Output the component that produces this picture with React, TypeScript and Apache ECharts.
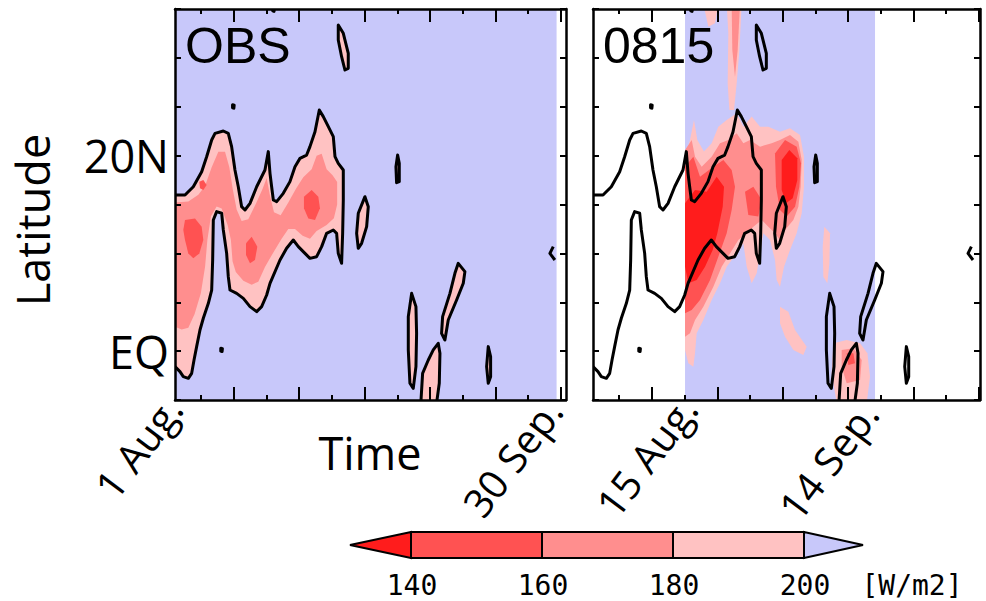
import React, { useEffect, useRef } from 'react';
import * as echarts from 'echarts';

// ---------- colour scale ----------
const LEVELS = [140, 160, 180, 200];
// index 0: <140, 1: 140-160, 2: 160-180, 3: 180-200, 4: >200
const LEVEL_COLORS = ['#ff1c1c', '#ff5252', '#ff8e8e', '#ffc2c2', '#c8c8fa'];
const UNIT = '[W/m2]';

// ---------- axes ----------
const LAT_RANGE = [-5, 35];
const OBS_TIME_RANGE = [1, 60.8];
const FC_TIME_RANGE = [1, 60.17];
const MAJOR_DAYS = [10, 20, 30, 40, 50, 60];
const MINOR_DAYS = [5, 15, 25, 35, 45, 55];
const LAT_LABELS: Record<number, string> = { 20: '20N', 0: 'EQ' };
const PANEL_TITLES = ['OBS', '0815'];
const DATE_LABELS_OBS = ['1 Aug.', '30 Sep.'];
const DATE_LABELS_FC = ['15 Aug.', '14 Sep.'];

// data periods (day of period, 1 = 1 Aug)
const OBS_PERIOD = [1, 59.36];
const FC_PERIOD = [15.07, 44.12];

// ---------- observed 200 W/m2 contour (day, lat) ----------
const OBS_MAIN = [
  [1.0, 15.97], [2.53, 15.97], [3.8, 16.82], [5.08, 18.36], [5.84, 19.89], [6.61, 21.6], [7.12, 22.28], [8.39, 22.52],
  [9.15, 22.28], [9.66, 20.92], [10.17, 18.53], [10.68, 16.82], [11.19, 14.78], [11.7, 14.44], [12.47, 15.12],
  [13.49, 16.82], [14.76, 18.53], [15.27, 20.41], [15.53, 18.19], [15.78, 16.82], [16.04, 15.46], [16.55, 15.29],
  [17.56, 16.14], [18.58, 17.34], [19.35, 18.87], [20.11, 19.72], [21.13, 20.06], [21.64, 20.92], [22.41, 22.45],
  [23.07, 24.67], [23.68, 23.99], [24.45, 22.96], [25.21, 21.94], [25.47, 19.89], [25.97, 19.21], [26.74, 18.53],
  [26.74, 15.46], [26.64, 12.05], [26.48, 8.98], [25.97, 10.0], [25.72, 12.05], [25.21, 12.39], [24.19, 12.05],
  [23.43, 10.69], [22.66, 9.66], [21.64, 9.49], [20.88, 10.0], [19.86, 10.69], [19.09, 11.37], [18.07, 10.52],
  [17.06, 9.32], [15.53, 6.94], [15.02, 5.74], [14.25, 4.55], [13.49, 4.04], [12.47, 4.55], [11.45, 5.4],
  [10.43, 5.91], [9.41, 6.25], [9.15, 7.62], [8.9, 10.0], [8.39, 12.39], [8.14, 14.1], [7.37, 14.27], [6.86, 13.41],
  [6.76, 9.32], [6.61, 6.25], [6.1, 4.89], [5.33, 3.36], [4.82, 2.16], [4.31, 0.46], [3.91, -0.91], [3.55, -2.27],
  [3.04, -2.78], [2.27, -2.61], [1.76, -2.1], [1.0, -1.59],
];
const OBS_S1 = [[25.97, 33.36], [26.74, 32.51], [27.5, 30.46], [27.5, 28.93], [26.99, 28.76], [26.48, 30.12], [25.97, 31.83]];
const OBS_S2 = [[30.05, 15.8], [30.56, 14.78], [30.31, 12.73], [29.54, 11.03], [29.03, 10.52], [28.78, 12.05], [29.03, 14.1]];
const OBS_S3 = [[37.19, 5.91], [37.85, 4.55], [37.95, 1.82], [37.85, -1.59], [37.44, -3.81], [36.93, -3.29], [36.68, 0.12], [36.68, 3.53]];
const OBS_S4 = [[44.32, 8.98], [45.34, 8.13], [45.09, 6.94], [44.07, 5.23], [42.79, 3.18], [42.28, 1.14], [41.77, 1.82], [41.93, 3.53], [43.05, 5.91], [43.81, 7.96]];
const OBS_S5 = [[41.26, 0.8], [41.52, -0.23], [41.42, -3.29], [41.01, -5.3], [38.6, -5.3], [38.87, -2.27], [39.74, -0.91], [40.5, 0.12]];
const OBS_S6 = [[48.91, 0.46], [49.27, -0.57], [49.27, -2.61], [48.91, -3.29], [48.66, -1.59]];
const OBS_S7 = [[35.05, 20.06], [35.3, 19.21], [35.3, 17.34], [34.89, 17.23], [34.79, 18.87]];
const OBS_D1 = [[9.8, 25.2], [10.05, 25.15], [10.0, 24.85], [9.8, 24.9]];
const OBS_D2 = [[8.0, 0.3], [8.25, 0.25], [8.2, -0.05], [8.0, 0.0]];
const OBS_D3 = [[15.9, 35.2], [16.2, 35.2], [16.15, 34.75], [15.95, 34.8]];
const OBS_EDGE = [[58.85, 10.69], [58.34, 10.0], [59.1, 9.32]];

// ---------- observed inner levels ----------
const OBS_MED = [
  [1.0, 15.2], [3.04, 15.3], [4.57, 16.0], [5.59, 16.9], [6.61, 18.8], [7.63, 20.4], [8.65, 20.4], [9.31, 18.8],
  [9.82, 16.6], [10.43, 14.5], [11.19, 13.3], [12.21, 13.5], [13.39, 15.1], [14.4, 16.6], [15.02, 17.7],
  [15.53, 15.9], [16.14, 14.2], [17.16, 13.9], [18.33, 15.2], [19.5, 16.6], [20.62, 17.8], [21.9, 18.6],
  [22.66, 20.0], [23.43, 20.2], [24.19, 18.6], [25.1, 18.0], [25.8, 17.3], [25.8, 15.0], [25.3, 13.6],
  [24.19, 12.9], [22.66, 12.3], [21.64, 11.5], [20.52, 11.8], [19.35, 12.5], [18.33, 12.5], [17.31, 11.5],
  [16.04, 10.1], [14.76, 8.6], [13.74, 7.1], [12.72, 6.8], [11.45, 7.2], [10.3, 8.1], [9.8, 9.2], [9.55, 11.37],
  [9.05, 12.9], [8.14, 14.6], [7.37, 14.8], [6.5, 13.8], [5.95, 11.37], [5.6, 8.64], [4.95, 5.91], [4.0, 3.8],
  [3.04, 2.4], [2.02, 2.2], [1.0, 2.5],
];
const OBS_DARK_A = [[2.53, 13.41], [4.06, 13.58], [5.08, 12.73], [5.33, 11.37], [4.72, 10.0], [3.8, 9.49], [3.04, 10.0], [2.53, 11.37], [2.27, 12.39]];
const OBS_DARK_A2 = [[4.72, 17.34], [5.33, 17.51], [5.84, 16.99], [5.33, 16.48], [4.82, 16.65]];
const OBS_DARK_B = [[11.86, 11.03], [12.72, 11.71], [13.59, 10.69], [13.23, 9.32], [12.47, 8.98], [11.86, 9.83]];
const OBS_DARK_C = [[20.72, 15.8], [21.9, 16.48], [22.92, 15.8], [23.17, 14.61], [22.41, 13.41], [21.39, 13.58], [20.72, 14.61]];

// ---------- forecast (init 15 Aug) levels ----------
const FC_LIGHT_MAIN = [
  [15.07, 19.89], [15.83, 21.6], [16.44, 23.64], [16.95, 21.6], [17.97, 20.41], [19.14, 21.26], [20.16, 22.96],
  [21.44, 23.64], [22.97, 24.33], [23.99, 22.96], [25.26, 23.99], [26.54, 22.96], [27.81, 22.96], [29.59, 22.45],
  [31.12, 22.79], [32.65, 22.11], [33.26, 19.89], [33.26, 16.82], [32.91, 14.1], [32.14, 12.05], [31.12, 10.35],
  [30.21, 8.64], [29.59, 6.59], [29.08, 7.28], [28.83, 9.32], [28.06, 11.37], [27.05, 12.05], [26.54, 10.0],
  [26.03, 7.96], [25.26, 6.94], [24.5, 8.64], [23.99, 11.03], [22.97, 10.0], [21.44, 8.64], [20.42, 6.94],
  [19.14, 5.23], [17.87, 3.18], [16.85, 1.82], [16.6, -0.23], [16.34, -1.59], [15.58, -1.25], [15.07, 0.12],
];
const FC_LIGHT_PLUME_A = [[17.87, 35.5], [20.16, 35.5], [19.65, 33.53], [18.64, 33.19]];
const FC_LIGHT_PLUME_B = [[21.44, 35.5], [23.73, 35.5], [23.38, 30.81], [22.97, 27.4], [22.56, 24.67], [21.85, 24.67], [21.59, 27.4], [21.69, 32.51]];
const FC_LIGHT_STREAK_S = [[29.59, 4.55], [30.87, 4.04], [31.89, 2.16], [33.67, 0.46], [33.16, -0.4], [31.63, 0.12], [30.36, 1.48], [29.59, 2.84]];
const FC_LIGHT_STREAK_E = [[36.37, 12.73], [37.24, 12.05], [37.14, 8.98], [36.83, 6.94], [36.22, 7.62], [36.12, 10.69]];
const FC_LIGHT_SE = [[37.75, 0.8], [39.79, 1.14], [41.83, 0.8], [42.95, -0.23], [43.35, -2.61], [42.85, -5.3], [38.26, -5.3], [37.49, -2.27]];
const FC_MED_MAIN = [
  [15.07, 20.58], [16.09, 21.6], [16.6, 19.89], [17.62, 18.87], [19.14, 19.89], [20.42, 21.26], [21.69, 21.6],
  [22.97, 22.28], [23.99, 21.26], [25.01, 21.6], [26.54, 20.92], [28.32, 21.26], [29.59, 21.6], [31.12, 22.11],
  [32.4, 21.43], [32.91, 19.55], [32.75, 16.82], [32.4, 14.78], [31.63, 13.41], [30.36, 12.39], [29.59, 11.37],
  [28.83, 12.05], [27.81, 12.73], [26.79, 13.41], [25.52, 12.73], [24.5, 12.05], [23.22, 11.37], [21.95, 10.0],
  [20.67, 8.64], [19.4, 6.59], [17.87, 4.55], [16.6, 3.18], [15.83, 1.82], [15.07, 1.48],
];
const FC_MED_PLUME = [[22.2, 35.5], [23.48, 35.5], [23.12, 30.81], [22.71, 28.08], [22.3, 30.81]];
const FC_MED_SE = [[39.02, 0.12], [40.81, 0.29], [42.08, -0.91], [41.83, -2.95], [39.79, -3.29], [39.02, -1.59]];
const FC_DARK_W = [
  [15.07, 18.87], [16.34, 19.89], [17.36, 17.85], [19.4, 18.87], [20.93, 19.55], [22.2, 18.53], [22.71, 16.82],
  [22.2, 14.44], [21.44, 12.05], [20.16, 9.66], [18.89, 7.28], [17.36, 5.23], [16.09, 4.21], [15.07, 3.87],
];
const FC_DARK_MID = [[24.24, 16.31], [25.52, 16.82], [26.79, 15.46], [26.28, 13.76], [24.75, 13.93]];
const FC_DARK_E = [[28.83, 20.23], [30.36, 21.6], [32.14, 20.92], [32.8, 19.21], [32.55, 16.82], [31.89, 14.78], [30.61, 13.76], [29.59, 14.44], [28.98, 16.82]];
const FC_DARK_SE = [[39.79, -0.23], [40.81, -0.23], [41.06, -1.25], [40.04, -1.42]];
const FC_RED_W = [[15.07, 15.12], [16.6, 16.48], [18.38, 16.31], [19.91, 17.85], [21.03, 16.82], [20.83, 14.78], [20.01, 12.05], [19.3, 10.35], [18.13, 8.64], [16.85, 7.28], [15.58, 6.94], [15.07, 8.64]];
const FC_RED_E = [[29.85, 19.55], [31.02, 20.58], [32.24, 19.72], [32.24, 17.51], [31.53, 15.63], [30.51, 15.12], [29.85, 16.48]];

type Fill = { level: number; pts: number[][] };
type Contour = { pts: number[][]; closed: boolean };

const periodBox = (p: number[]) => [
  [p[0], LAT_RANGE[0]], [p[1], LAT_RANGE[0]], [p[1], LAT_RANGE[1]], [p[0], LAT_RANGE[1]],
];

const OBS_FILLS: Fill[] = [
  { level: 4, pts: periodBox(OBS_PERIOD) },
  { level: 3, pts: OBS_MAIN },
  ...[OBS_S1, OBS_S2, OBS_S3, OBS_S4, OBS_S5, OBS_S6, OBS_S7].map((pts) => ({ level: 3, pts })),
  { level: 2, pts: OBS_MED },
  ...[OBS_DARK_A, OBS_DARK_A2, OBS_DARK_B, OBS_DARK_C].map((pts) => ({ level: 1, pts })),
];

const FC_FILLS: Fill[] = [
  { level: 4, pts: periodBox(FC_PERIOD) },
  ...[FC_LIGHT_MAIN, FC_LIGHT_PLUME_A, FC_LIGHT_PLUME_B, FC_LIGHT_STREAK_S, FC_LIGHT_STREAK_E, FC_LIGHT_SE].map((pts) => ({ level: 3, pts })),
  ...[FC_MED_MAIN, FC_MED_PLUME, FC_MED_SE].map((pts) => ({ level: 2, pts })),
  ...[FC_DARK_W, FC_DARK_MID, FC_DARK_E, FC_DARK_SE].map((pts) => ({ level: 1, pts })),
  ...[FC_RED_W, FC_RED_E].map((pts) => ({ level: 0, pts })),
];

const OBS_CONTOURS: Contour[] = [
  { pts: OBS_MAIN, closed: false },
  ...[OBS_S1, OBS_S2, OBS_S3, OBS_S4, OBS_S5, OBS_S6, OBS_S7, OBS_D1, OBS_D2, OBS_D3].map((pts) => ({ pts, closed: true })),
  { pts: OBS_EDGE, closed: false },
];

const FONT = 'Open Sans';

function fillSeries(items: Fill[], xi: number, yi: number) {
  return {
    type: 'custom',
    xAxisIndex: xi,
    yAxisIndex: yi,
    clip: true,
    silent: true,
    z: 2,
    data: items.map((it) => it.pts[0]),
    renderItem: (params: any, api: any) => {
      const it = items[params.dataIndex];
      return {
        type: 'polygon',
        shape: { points: it.pts.map((p) => api.coord(p)) },
        style: { fill: LEVEL_COLORS[it.level], stroke: 'none' },
      };
    },
  };
}

function contourSeries(items: Contour[], xi: number, yi: number) {
  return {
    type: 'custom',
    xAxisIndex: xi,
    yAxisIndex: yi,
    clip: true,
    silent: true,
    z: 3,
    data: items.map((it) => it.pts[0]),
    renderItem: (params: any, api: any) => {
      const it = items[params.dataIndex];
      return {
        type: it.closed ? 'polygon' : 'polyline',
        shape: { points: it.pts.map((p) => api.coord(p)) },
        style: { fill: 'none', stroke: '#000', lineWidth: 3, lineJoin: 'round' },
      };
    },
  };
}

function xAxes(gridIndex: number, range: number[]) {
  const base = {
    gridIndex,
    type: 'value',
    min: range[0],
    max: range[1],
    splitLine: { show: false },
    axisLabel: { show: false },
    z: 10,
  };
  const res: any[] = [];
  for (const position of ['bottom', 'top']) {
    res.push({
      ...base,
      position,
      axisLine: { show: true, onZero: false, lineStyle: { color: '#000', width: 2.5 } },
      axisTick: { show: true, inside: true, length: 13, customValues: MAJOR_DAYS, lineStyle: { color: '#000', width: 2 } },
    });
    res.push({
      ...base,
      position,
      axisLine: { show: false, onZero: false },
      axisTick: { show: true, inside: true, length: 5, customValues: MINOR_DAYS, lineStyle: { color: '#000', width: 2 } },
    });
  }
  return res;
}

function yAxes(gridIndex: number, withLabels: boolean) {
  const base = {
    gridIndex,
    type: 'value',
    min: LAT_RANGE[0],
    max: LAT_RANGE[1],
    interval: 5,
    splitLine: { show: false },
    axisLine: { show: true, onZero: false, lineStyle: { color: '#000', width: 2.5 } },
    axisTick: { show: true, inside: true, length: 6, lineStyle: { color: '#000', width: 2 } },
    z: 10,
  };
  return [
    {
      ...base,
      position: 'left',
      axisLabel: {
        show: withLabels,
        margin: 6,
        color: '#000',
        fontFamily: FONT,
        fontSize: 45,
        formatter: (v: number) => LAT_LABELS[v] ?? '',
      },
    },
    { ...base, position: 'right', axisLabel: { show: false } },
  ];
}

function textEl(text: string, x: number, y: number, size: number, family: string, rotDeg = 0, align = 'center') {
  return {
    type: 'text',
    x,
    y,
    rotation: (rotDeg * Math.PI) / 180,
    z: 20,
    style: {
      text,
      fontSize: size,
      fontFamily: family,
      fill: '#000',
      align,
      textAlign: align,
      verticalAlign: 'middle',
      textVerticalAlign: 'middle',
    },
  };
}

function colorbar() {
  const x0 = 411;
  const step = 131;
  const top = 532;
  const h = 26;
  const mid = top + h / 2;
  const els: any[] = [];
  const xEnd = x0 + step * (LEVELS.length - 1);
  els.push({
    type: 'polygon',
    shape: { points: [[350, mid], [x0, top], [x0, top + h]] },
    style: { fill: LEVEL_COLORS[0], stroke: '#000', lineWidth: 2 },
  });
  for (let i = 0; i < LEVELS.length - 1; i++) {
    els.push({
      type: 'rect',
      shape: { x: x0 + i * step, y: top, width: step, height: h },
      style: { fill: LEVEL_COLORS[i + 1], stroke: '#000', lineWidth: 2 },
    });
  }
  els.push({
    type: 'polygon',
    shape: { points: [[xEnd, top], [863, mid], [xEnd, top + h]] },
    style: { fill: LEVEL_COLORS[LEVELS.length], stroke: '#000', lineWidth: 2 },
  });
  LEVELS.forEach((lv, i) => {
    els.push(textEl(String(lv), x0 + i * step + 1, 585, 28, 'DejaVu Sans Mono'));
  });
  els.push(textEl(UNIT, 912, 585, 28, 'DejaVu Sans Mono'));
  return els;
}

export default function App() {
  const ref = useRef<HTMLDivElement>(null);
  useEffect(() => {
    if (!ref.current) return;
    const chart = echarts.init(ref.current, undefined, { renderer: 'svg' });
    const option: any = {
      animation: false,
      backgroundColor: '#fff',
      grid: [
        { left: 175, top: 9, width: 391, height: 391 },
        { left: 593, top: 9, width: 387, height: 391 },
      ],
      xAxis: [...xAxes(0, OBS_TIME_RANGE), ...xAxes(1, FC_TIME_RANGE)],
      yAxis: [...yAxes(0, true), ...yAxes(1, false)],
      series: [
        fillSeries(OBS_FILLS, 0, 0),
        contourSeries(OBS_CONTOURS, 0, 0),
        fillSeries(FC_FILLS, 4, 2),
        contourSeries(OBS_CONTOURS, 4, 2),
      ],
      graphic: [
        textEl(PANEL_TITLES[0], 185, 46, 50, 'Liberation Sans', 0, 'left'),
        textEl(PANEL_TITLES[1], 603, 46, 50, 'Liberation Sans', 0, 'left'),
        textEl('Latitude', 32, 220, 45, FONT, 90),
        textEl('Time', 370, 452, 45, FONT),
        textEl(DATE_LABELS_OBS[0], 173, 401, 40, FONT, 53, 'right'),
        textEl(DATE_LABELS_OBS[1], 553, 403, 40, FONT, 53, 'right'),
        textEl(DATE_LABELS_FC[0], 688, 401, 40, FONT, 53, 'right'),
        textEl(DATE_LABELS_FC[1], 869, 406, 40, FONT, 53, 'right'),
        ...colorbar(),
      ],
    };
    chart.setOption(option);
    return () => chart.dispose();
  }, []);
  return <div ref={ref} style={{ position: 'fixed', left: 0, top: 0, width: 986, height: 601 }} />;
}
